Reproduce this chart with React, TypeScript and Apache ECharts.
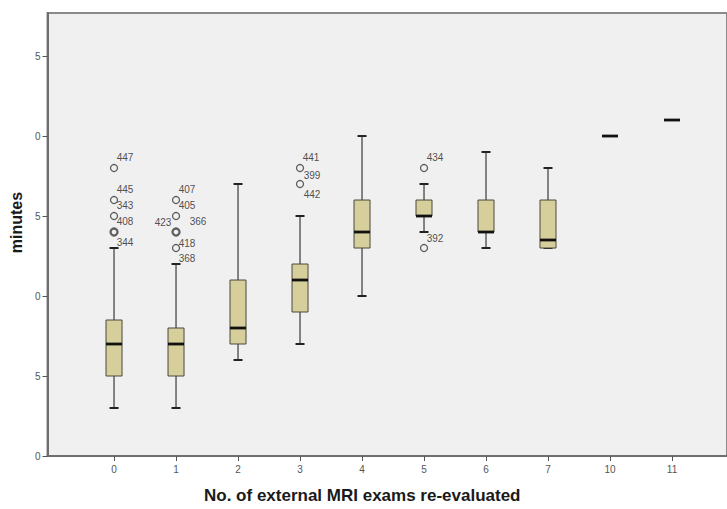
import React, { useEffect, useRef } from 'react';
import * as echarts from 'echarts';

// ---------- data ----------
const categories = ['0', '1', '2', '3', '4', '5', '6', '7', '10', '11'];
const lowerWhisker = [3, 3, 6, 7, 10, 14, 13, 13, 20, 21];
const q1 = [5, 5, 7, 9, 13, 15, 14, 13, 20, 21];
const median = [7, 7, 8, 11, 14, 15, 14, 13.5, 20, 21];
const q3 = [8.5, 8, 11, 12, 16, 16, 16, 16, 20, 21];
const upperWhisker = [13, 12, 17, 15, 20, 17, 19, 18, 20, 21];
const yTickValues = [0, 5, 10, 15, 20, 25];

// outliers (category index, value, several cases at the same point)
const outlierCategory = [0, 0, 0, 0, 1, 1, 1, 1, 3, 3, 5, 5];
const outlierValue = [18, 16, 15, 14, 16, 15, 14, 13, 18, 17, 18, 13];
const outlierMultiple = [false, false, false, true, false, false, true, false, false, false, false, false];

// case labels attached to outliers
const caseLabel = ['447', '445', '343', '408', '344', '407', '405', '423', '366', '418', '368', '441', '399', '442', '434', '392'];
const caseCategory = [0, 0, 0, 0, 0, 1, 1, 1, 1, 1, 1, 3, 3, 3, 5, 5];
const caseValue = [18, 16, 16, 15, 14, 16, 16, 15, 15, 13, 13, 18, 18, 17, 18, 13];

// ---------- style ----------
const labelOffsets: Record<string, [number, number]> = {
  '447': [11, -11], '445': [11, -11], '343': [11, 5], '408': [11, 5], '344': [11, 10],
  '407': [11, -11], '405': [11, 5], '423': [-13, 6], '366': [22, 5], '418': [11, -5], '368': [11, 10],
  '441': [11, -11], '399': [12, 7], '442': [12, 10],
  '434': [11, -11], '392': [11, -10],
};
const FONT = 'Arial, "Liberation Sans", sans-serif';

export default function App() {
  const ref = useRef<HTMLDivElement>(null);
  useEffect(() => {
    if (!ref.current) return;
    const chart = echarts.init(ref.current, null, { renderer: 'svg' });
    const boxData = categories.map((_, i) => [i, lowerWhisker[i], q1[i], median[i], q3[i], upperWhisker[i]]);
    const outlierData = outlierCategory.map((c, i) => ({
      value: [c, outlierValue[i]],
      itemStyle: { borderWidth: outlierMultiple[i] ? 2.3 : 1.3 },
    }));
    const labelData = caseLabel.map((t, i) => ({
      name: t,
      value: [caseCategory[i], caseValue[i]],
      label: { offset: labelOffsets[t] || [10, 0] },
    }));
    chart.setOption({
      animation: false,
      backgroundColor: '#ffffff',
      grid: {
        left: 47.5, top: 13, right: -3, bottom: 53,
        show: true, backgroundColor: '#f0f0f0', borderColor: '#8a8a8a', borderWidth: 2,
      },
      xAxis: {
        type: 'value', min: -1.073, max: 9.887,
        splitLine: { show: false },
        axisLine: { show: true, onZero: false, lineStyle: { color: '#6e6e6e', width: 2 } },
        axisTick: { show: true, length: 5, lineStyle: { color: '#555', width: 1 }, customValues: categories.map((_, i) => i) },
        axisLabel: {
          customValues: categories.map((_, i) => i),
          formatter: (v: number) => categories[Math.round(v)] ?? '',
          color: '#555', fontSize: 10, fontFamily: FONT, margin: 8,
        },
        name: 'No. of external MRI exams re-evaluated',
        nameLocation: 'middle', nameGap: 31,
        nameTextStyle: { fontSize: 17, fontWeight: 'bold', color: '#1a1a1a', fontFamily: FONT, padding: [0, 50, 0, 0] },
      },
      yAxis: {
        type: 'value', min: 0, max: 27.69,
        splitLine: { show: false },
        axisLine: { show: true, onZero: false, lineStyle: { color: '#6e6e6e', width: 2 } },
        axisTick: { show: true, length: 5, lineStyle: { color: '#555', width: 1 }, customValues: yTickValues },
        axisLabel: {
          customValues: yTickValues,
          formatter: (v: number) => String(v % 10),
          color: '#555', fontSize: 10, fontFamily: FONT, margin: 7,
        },
        name: 'minutes',
        nameLocation: 'middle', nameGap: 18,
        nameTextStyle: { fontSize: 16, fontWeight: 'bold', color: '#1a1a1a', fontFamily: FONT, padding: [0, 0, 0, 24] },
      },
      series: [
        {
          type: 'custom',
          encode: { x: 0, y: [1, 2, 3, 4, 5] },
          data: boxData,
          renderItem: (_params: any, api: any) => {
            const x = api.value(0);
            const pt = (v: number) => api.coord([x, v]);
            const [cx, yLo] = pt(api.value(1));
            const yQ1 = pt(api.value(2))[1];
            const yMed = pt(api.value(3))[1];
            const yQ3 = pt(api.value(4))[1];
            const yHi = pt(api.value(5))[1];
            const hw = 8;
            const cw = 4.5;
            const wStyle = { stroke: '#3a3a3a', lineWidth: 1.2 };
            const cStyle = { stroke: '#222', lineWidth: 2 };
            return {
              type: 'group',
              children: [
                { type: 'line', shape: { x1: cx, y1: yLo, x2: cx, y2: yQ1 }, style: wStyle },
                { type: 'line', shape: { x1: cx, y1: yQ3, x2: cx, y2: yHi }, style: wStyle },
                { type: 'line', shape: { x1: cx - cw, y1: yLo, x2: cx + cw, y2: yLo }, style: cStyle },
                { type: 'line', shape: { x1: cx - cw, y1: yHi, x2: cx + cw, y2: yHi }, style: cStyle },
                {
                  type: 'rect',
                  shape: { x: cx - hw, y: yQ3, width: 2 * hw, height: yQ1 - yQ3 },
                  style: { fill: '#d6cf9c', stroke: '#4a4a3a', lineWidth: 1 },
                },
                { type: 'line', shape: { x1: cx - hw, y1: yMed, x2: cx + hw, y2: yMed }, style: { stroke: '#111', lineWidth: 2.8 } },
              ],
            };
          },
          z: 3,
        },
        {
          type: 'scatter',
          symbol: 'circle',
          symbolSize: 7,
          itemStyle: { color: '#f0f0f0', borderColor: '#3a3a3a', borderWidth: 1.3 },
          data: outlierData,
          z: 4,
        },
        {
          type: 'scatter',
          symbol: 'circle',
          symbolSize: 1,
          itemStyle: { color: 'transparent' },
          label: {
            show: true, position: 'inside', formatter: '{b}',
            fontSize: 10, color: '#222', fontFamily: FONT,
          },
          data: labelData,
          z: 5,
        },
      ],
    });
    return () => chart.dispose();
  }, []);
  return <div ref={ref} style={{ position: 'fixed', left: 0, top: 0, width: 727, height: 509 }} />;
}
